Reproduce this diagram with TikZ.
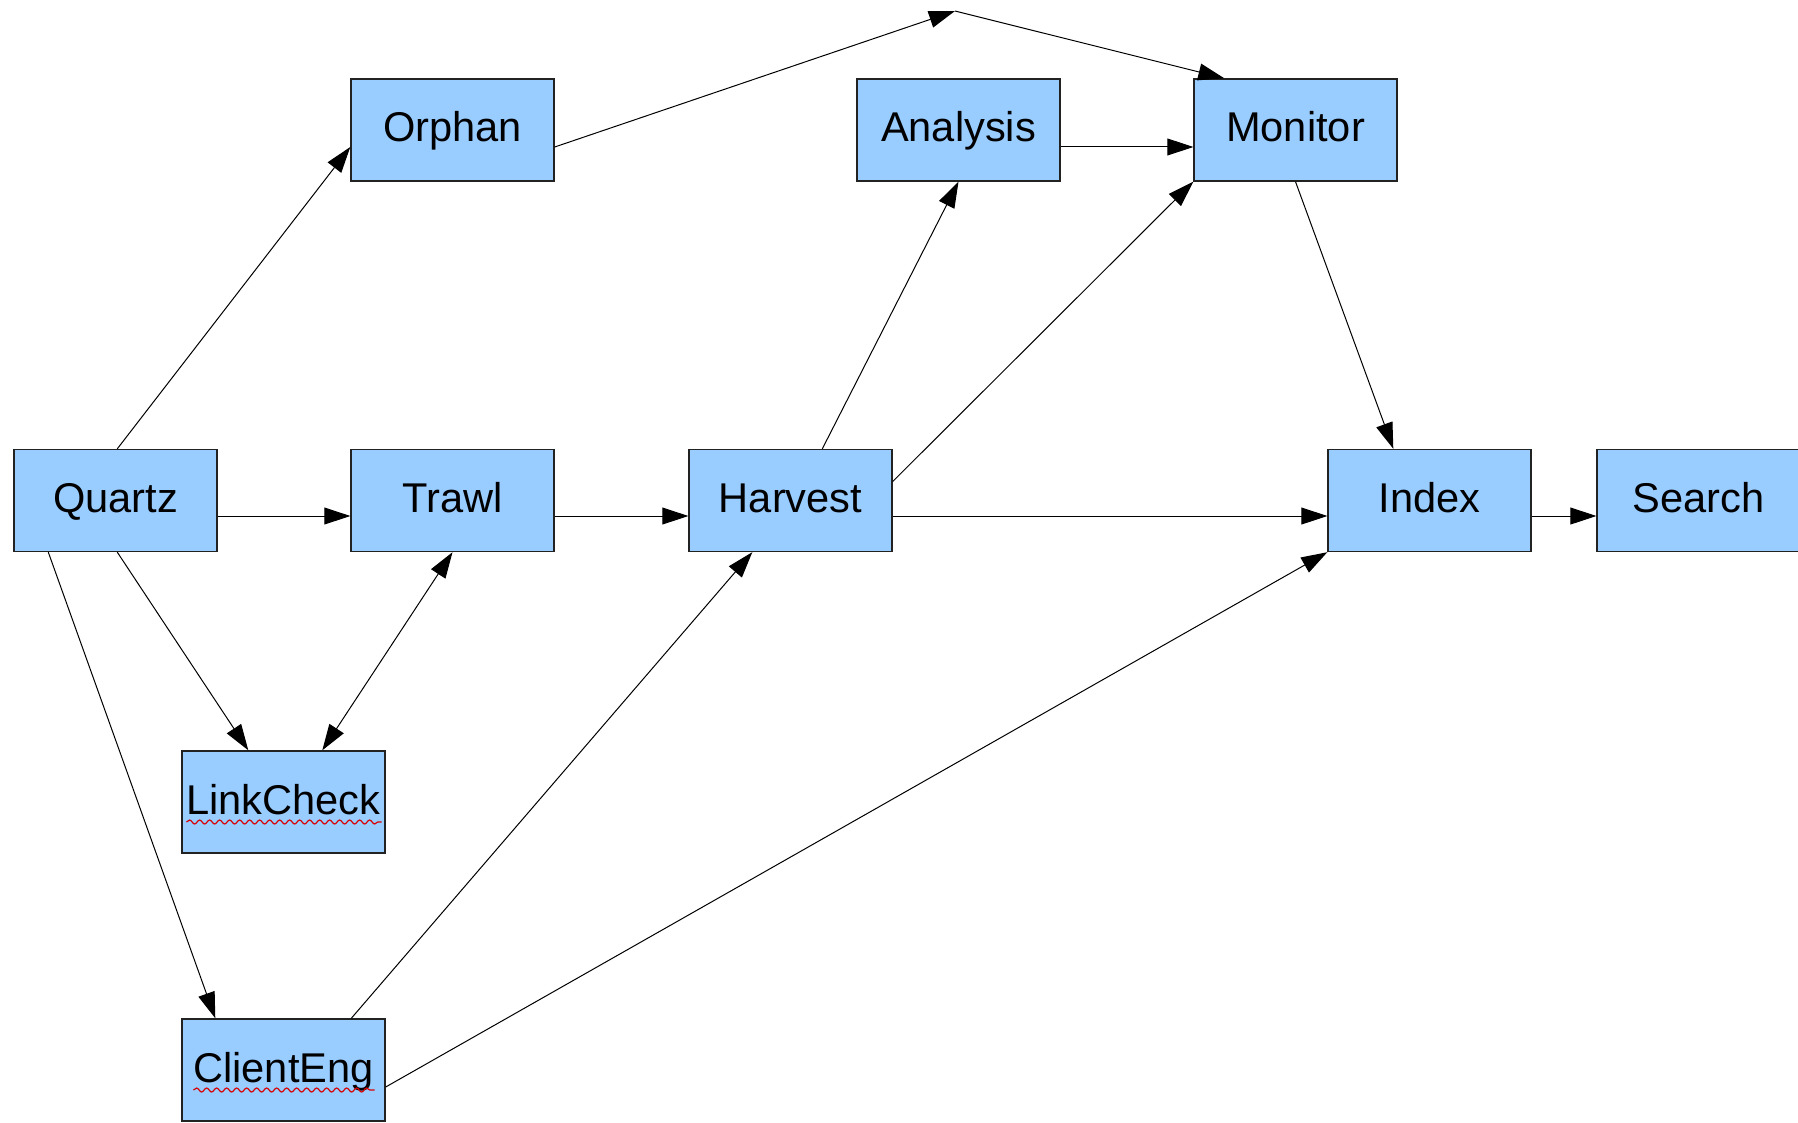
\documentclass[tikz,border=0pt]{standalone}
\usepackage{fontspec}
\setmainfont{Liberation Sans}
\usetikzlibrary{arrows.meta,calc,decorations.pathmorphing}
\definecolor{boxblue}{HTML}{99CCFF}
\definecolor{boxline}{HTML}{222222}
\begin{document}
\begin{tikzpicture}[x=0.5pt,y=-0.5pt,
  module/.style={draw=boxline,line width=0.7pt,fill=boxblue,
    minimum width=101.5pt,minimum height=51pt,inner sep=0pt,
    text height=15pt,text depth=3pt,
    font=\fontsize{20.8}{25}\selectfont},
  link/.style={line width=0.5pt,-{Triangle[length=13pt,width=8.5pt]}},
  twoway/.style={line width=0.5pt,{Triangle[length=13pt,width=8.5pt]}-{Triangle[length=13pt,width=8.5pt]}},
  squiggle/.style={draw=red!85!black,line width=0.6pt,
    decorate,decoration={snake,segment length=5pt,amplitude=1pt}}]
\useasboundingbox (0,0) rectangle (1798,1123);

% modules
\node[module] (orphan)    at (452.5,130)  {Orphan};
\node[module] (analysis)  at (958.5,130)  {Analysis};
\node[module] (monitor)   at (1295.5,130) {Monitor};
\node[module] (quartz)    at (115.5,500.5) {Quartz};
\node[module] (trawl)     at (452.5,500.5) {Trawl};
\node[module] (harvest)   at (790.5,500.5) {Harvest};
\node[module] (index)     at (1429.5,500.5) {Index};
\node[module] (search)    at (1698.5,500.5) {Search};
\node[module] (linkcheck) at (283.5,802)  {LinkCheck};
\node[module] (clienteng) at (283.5,1070) {ClientEng};

% spell-check underlines
\draw[squiggle] ($(linkcheck)+(-97,20)$) -- ($(linkcheck)+(98,20)$);
\draw[squiggle] ($(clienteng)+(-90,20)$) -- ($(clienteng)+(91,20)$);

% bend point of the Orphan -> Monitor route
\coordinate (apex) at (955,11);

% connectors
\draw[link] ($(quartz.north west)+(104,0)$) -- ($(orphan.west)+(0,17)$);
\draw[link] ($(orphan.east)+(0,17)$) -- (apex);
\draw[link] (apex) -- ($(monitor.north west)+(31,0)$);
\draw[link] ($(analysis.east)+(0,17)$) -- ($(monitor.west)+(0,17)$);

\draw[link] ($(quartz.east)+(0,15.5)$) -- ($(trawl.west)+(0,15.5)$);
\draw[link] ($(trawl.east)+(0,15.5)$) -- ($(harvest.west)+(0,15.5)$);
\draw[link] ($(harvest.east)+(0,15.5)$) -- ($(index.west)+(0,15.5)$);
\draw[link] ($(index.east)+(0,15.5)$) -- ($(search.west)+(0,15.5)$);

\draw[link] ($(harvest.north west)+(134,0)$) -- (analysis.south);
\draw[link] ($(harvest.east)+(0,-19)$) -- (monitor.south west);
\draw[link] (monitor.south) -- ($(index.north west)+(66,0)$);

\draw[link] ($(quartz.south west)+(104,0)$) -- ($(linkcheck.north west)+(67,0)$);
\draw[twoway] (trawl.south) -- ($(linkcheck.north west)+(141,0)$);
\draw[link] ($(quartz.south west)+(35,0)$) -- ($(clienteng.north west)+(34,0)$);
\draw[link] ($(clienteng.north west)+(170,0)$) -- ($(harvest.south west)+(64,0)$);
\draw[link] ($(clienteng.east)+(0,17)$) -- (index.south west);
\end{tikzpicture}
\end{document}
